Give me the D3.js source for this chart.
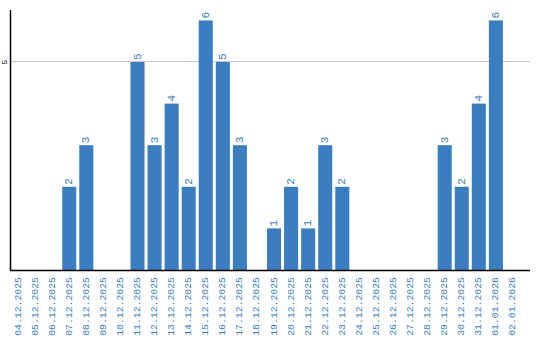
<!DOCTYPE html>
<html>
<head>
<meta charset="utf-8">
<script src="https://cdn.jsdelivr.net/npm/d3@7"></script>
<style>
  body { margin: 0; background: #fff; }
  text { font-family: "Liberation Mono", "DejaVu Sans Mono", monospace; }
</style>
</head>
<body>
<div id="chart"></div>
<script>
var svgWidth = 540;
var svgHeight = 340;

// dates along the x axis
var days = ["04.12.2025", "05.12.2025", "06.12.2025", "07.12.2025", "08.12.2025",
    "09.12.2025", "10.12.2025", "11.12.2025", "12.12.2025", "13.12.2025",
    "14.12.2025", "15.12.2025", "16.12.2025", "17.12.2025", "18.12.2025",
    "19.12.2025", "20.12.2025", "21.12.2025", "22.12.2025", "23.12.2025",
    "24.12.2025", "25.12.2025", "26.12.2025", "27.12.2025", "28.12.2025",
    "29.12.2025", "30.12.2025", "31.12.2025", "01.01.2026", "02.01.2026"];
// counts per day
var counts = [0, 0, 0, 2, 3, 0, 0, 5, 3, 4, 2, 6, 5, 3, 0,
    1, 2, 1, 3, 2, 0, 0, 0, 0, 0, 3, 2, 4, 6, 0];
var yTicks = [5];

var blue = "#3a7dc1";

var chartData = days.map((d, i) => ({ day: d, count: counts[i] }));

var svg = d3.select("#chart")
    .append("svg")
    .attr("width", svgWidth)
    .attr("height", svgHeight);

var xScale = d3.scaleBand()
    .domain(days)
    .range([10.5, 520.5])
    .paddingInner(3 / 17)
    .paddingOuter(0.03);

var yScale = d3.scaleLinear()
    .domain([0, 6.25])
    .range([270, 10]);

// gridline
svg.selectAll(".grid")
    .data(yTicks)
    .enter()
    .append("line")
    .attr("x1", 10.5)
    .attr("x2", 530)
    .attr("y1", d => Math.round(yScale(d)) - 0.5)
    .attr("y2", d => Math.round(yScale(d)) - 0.5)
    .attr("stroke", "#c8c8c8")
    .attr("stroke-width", 1);

// y tick labels (rotated)
svg.selectAll(".ytick")
    .data(yTicks)
    .enter()
    .append("text")
    .attr("transform", d => `translate(4,${yScale(d)}) rotate(-90)`)
    .attr("text-anchor", "middle")
    .attr("dominant-baseline", "central")
    .attr("font-size", 8)
    .attr("fill", "#000")
    .text(d => d);

// bars
svg.selectAll(".bar")
    .data(chartData.filter(d => d.count > 0))
    .enter()
    .append("rect")
    .attr("x", d => xScale(d.day))
    .attr("y", d => yScale(d.count))
    .attr("width", xScale.bandwidth())
    .attr("height", d => yScale(0) - yScale(d.count))
    .attr("fill", blue);

// value labels
svg.selectAll(".val")
    .data(chartData.filter(d => d.count > 0))
    .enter()
    .append("text")
    .attr("transform", d => `translate(${xScale(d.day) + xScale.bandwidth() / 2},${yScale(d.count) - 2}) rotate(-90)`)
    .attr("text-anchor", "start")
    .attr("dominant-baseline", "central")
    .attr("font-size", 11)
    .attr("fill", blue)
    .text(d => d.count);

// axes lines
svg.append("line")
    .attr("x1", 10.5).attr("x2", 10.5)
    .attr("y1", 10).attr("y2", 270)
    .attr("stroke", "#000")
    .attr("stroke-width", 1.5);

svg.append("line")
    .attr("x1", 10).attr("x2", 530)
    .attr("y1", 270.5).attr("y2", 270.5)
    .attr("stroke", "#000")
    .attr("stroke-width", 1.5);

// x labels
svg.selectAll(".xlab")
    .data(days)
    .enter()
    .append("text")
    .attr("transform", d => `translate(${xScale(d) + xScale.bandwidth() / 2},277) rotate(-90)`)
    .attr("text-anchor", "end")
    .attr("dominant-baseline", "central")
    .attr("font-size", 9.8)
    .attr("fill", blue)
    .text(d => d);
</script>
</body>
</html>
